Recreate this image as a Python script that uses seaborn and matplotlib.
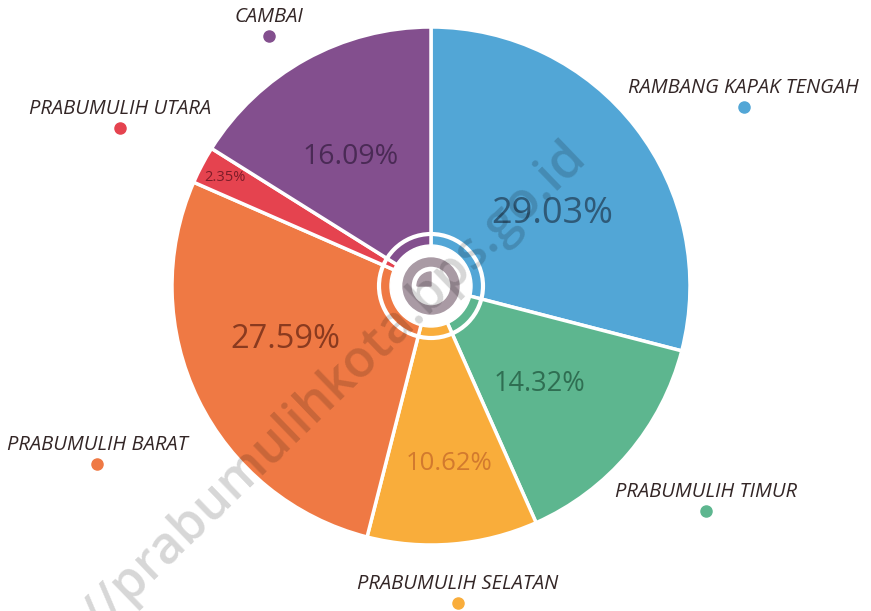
import numpy as np
import matplotlib.pyplot as plt
import seaborn as sns
from matplotlib.patches import Circle, Wedge

sns.set_theme(style='white')
plt.rcParams['font.family'] = ['Open Sans', 'DejaVu Sans']

# data
kecamatan = ['RAMBANG KAPAK TENGAH', 'PRABUMULIH TIMUR', 'PRABUMULIH SELATAN',
             'PRABUMULIH BARAT', 'PRABUMULIH UTARA', 'CAMBAI']
persen = [29.03, 14.32, 10.62, 27.59, 2.35, 16.09]

# style
warna = ['#52a6d6', '#5db68f', '#f9ad3b', '#ef7944', '#e5434f', '#834f8e']
warna_teks = ['#2f5a78', '#2f6e52', '#d27a2e', '#8a3a1f', '#7c1c28', '#4a2a55']
ukuran_teks = [26, 19.5, 18.5, 23.5, 10.5, 20.5]
# label layout: (angle nudge deg, distance px) for outer labels and percent labels
posisi_label = [(8, 360), (-1, 355), (0, 318), (-2, 378), (-1, 349), (-4, 298)]
posisi_persen = [(7, 141), (2, 146), (-1, 178), (6, 155), (0, 233), (-3, 152)]

W, H = 871, 611
cx, cy, R = 431, H - 286, 259

fig = plt.figure(figsize=(W / 100, H / 100), dpi=100)
ax = fig.add_axes([0, 0, 1, 1])

ax.pie(persen, colors=warna, startangle=90, counterclock=False,
       center=(cx, cy), radius=R,
       wedgeprops=dict(edgecolor='white', linewidth=2.5))

# angles of slice middles, clockwise from top
batas = np.concatenate([[0], np.cumsum(persen)]) / 100 * 360
tengah = (batas[:-1] + batas[1:]) / 2


def titik(sudut, jarak):
    a = np.deg2rad(sudut)
    return cx + jarak * np.sin(a), cy + jarak * np.cos(a)


for i, nama in enumerate(kecamatan):
    da, d = posisi_label[i]
    x, y = titik(tengah[i] + da, d)
    ax.plot(x, y, 'o', color=warna[i], markersize=8)
    ax.text(x, y + 9, nama, ha='center', va='bottom', fontsize=14.5,
            style='italic', color='#332626')

    da, d = posisi_persen[i]
    x, y = titik(tengah[i] + da, d)
    ax.text(x, y, f'{persen[i]:.2f}%', ha='center', va='center',
            fontsize=ukuran_teks[i], color=warna_teks[i])

# center decoration
ax.add_patch(Circle((cx, cy), 52, fill=False, edgecolor='white', linewidth=3, zorder=5))
ax.add_patch(Circle((cx, cy), 41, color='white', zorder=5))
ax.add_patch(Wedge((cx, cy), 28, 0, 360, width=8, color='#a99aa4', zorder=6))
ax.add_patch(Wedge((cx, cy), 14, 90, 180, color='#a99aa4', zorder=6))

# watermark (runs off the bottom edge, as in the original)
ax.text(588, H - 158, 'http://prabumulihkota.bps.go.id', rotation=44,
        rotation_mode='anchor', ha='right', va='baseline',
        fontsize=37, fontweight='semibold',
        color='black', alpha=0.16, zorder=7)

ax.set_xlim(0, W)
ax.set_ylim(0, H)
ax.set_aspect('equal')
ax.axis('off')

fig.savefig('out.png', dpi=100, facecolor='white')
